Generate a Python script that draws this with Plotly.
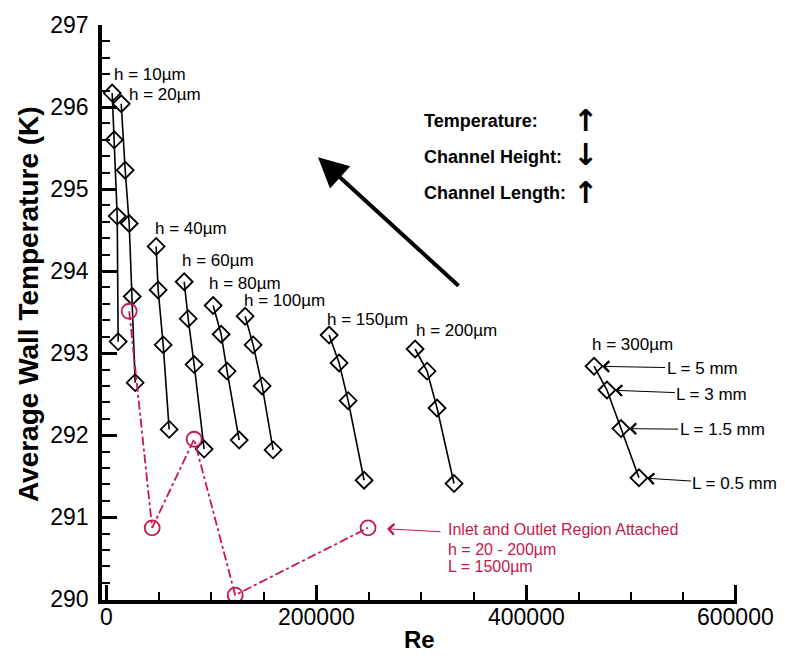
import plotly.graph_objects as go

# ---- data ----
h_labels = ["h = 10µm", "h = 20µm", "h = 40µm", "h = 60µm", "h = 80µm",
            "h = 100µm", "h = 150µm", "h = 200µm", "h = 300µm"]
re_h10 = [5700, 7600, 10500, 11400]
t_h10 = [296.17, 295.60, 294.67, 293.14]
re_h20 = [14300, 18100, 21900, 24800, 27600]
t_h20 = [296.04, 295.23, 294.58, 293.69, 292.64]
re_h40 = [47600, 49500, 54300, 60000]
t_h40 = [294.30, 293.77, 293.10, 292.07]
re_h60 = [74300, 78100, 83800, 93300]
t_h60 = [293.87, 293.42, 292.86, 291.83]
re_h80 = [101900, 109500, 115200, 126700]
t_h80 = [293.58, 293.23, 292.78, 291.94]
re_h100 = [132400, 140000, 148600, 159000]
t_h100 = [293.45, 293.10, 292.60, 291.82]
re_h150 = [212400, 221900, 230500, 245700]
t_h150 = [293.22, 292.88, 292.42, 291.45]
re_h200 = [294300, 305700, 315200, 331400]
t_h200 = [293.05, 292.78, 292.33, 291.41]
re_h300 = [464800, 477100, 490500, 507600]
t_h300 = [292.84, 292.55, 292.08, 291.48]
L_labels = ["L = 5 mm", "L = 3 mm", "L = 1.5 mm", "L = 0.5 mm"]

re_attached = [21900, 43800, 83800, 122900, 249500]
t_attached = [293.51, 290.87, 291.95, 290.05, 290.87]
attached_text = ["Inlet and Outlet Region Attached", "h = 20 - 200µm", "L = 1500µm"]

x_ticks = [0, 200000, 400000, 600000]
y_ticks = [290, 291, 292, 293, 294, 295, 296, 297]

series_re = [re_h10, re_h20, re_h40, re_h60, re_h80, re_h100, re_h150, re_h200, re_h300]
series_t = [t_h10, t_h20, t_h40, t_h60, t_h80, t_h100, t_h150, t_h200, t_h300]

FONT = "Liberation Sans, Arial, Helvetica, sans-serif"
RED = "#c8174a"
PH = 583  # plot height in px (for paper-referenced decorations)

fig = go.Figure()
for xs, ys, name in zip(series_re, series_t, h_labels):
    fig.add_trace(go.Scatter(
        x=xs, y=ys, mode="lines+markers", name=name, showlegend=False,
        line=dict(color="black", width=1.6),
        marker=dict(symbol="diamond-open", size=13, color="black",
                    line=dict(width=1.8, color="black"))))

fig.add_trace(go.Scatter(
    x=re_attached, y=t_attached, mode="lines+markers", showlegend=False,
    line=dict(color=RED, width=1.8, dash="dashdot"),
    marker=dict(symbol="circle-open", size=15, color=RED,
                line=dict(width=1.8, color=RED))))

ann = []
# h labels anchored at first point of each series
h_shift = [(0, 19), (6, 9), (-3, 18), (-4, 21), (-6, 22), (-3, 16), (-4, 16), (-1, 19), (-4, 22)]
for xs, ys, name, (dx, dy) in zip(series_re, series_t, h_labels, h_shift):
    ann.append(dict(x=xs[0], y=ys[0], text=name, showarrow=False,
                    xanchor="left", yanchor="middle", xshift=dx, yshift=dy,
                    font=dict(family=FONT, size=17, color="black")))

# L labels with arrows to the h = 300 µm points
L_off = [(108, 2), (105, 4), (101, 1), (96, 6)]
for xv, yv, txt, (ax, ay) in zip(re_h300, t_h300, L_labels, L_off):
    ann.append(dict(x=xv, y=yv, text=txt, showarrow=True, ax=ax, ay=ay,
                    arrowhead=4, arrowsize=2.1, arrowwidth=1.0, arrowcolor="black",
                    standoff=8, font=dict(family=FONT, size=17, color="black")))

# red annotation
ann.append(dict(x=re_attached[-1], y=t_attached[-1], text="", showarrow=True,
                ax=74, ay=4, arrowhead=4, arrowsize=2.1, arrowwidth=1.0,
                arrowcolor=RED, standoff=19))
for txt, ys in zip(attached_text, [-2, -22, -39]):
    ann.append(dict(x=re_attached[-1], y=t_attached[-1], text=txt, showarrow=False,
                    xanchor="left", yanchor="middle", xshift=78, yshift=ys,
                    font=dict(family=FONT, size=16, color=RED)))

# trend block
for txt, py in zip(["Temperature:", "Channel Height:", "Channel Length:"], [114, 151, 187]):
    ann.append(dict(xref="paper", yref="paper", x=(422 - 102) / 635, y=(600 - py) / PH,
                    text="<b>" + txt + "</b>", showarrow=False, xanchor="left", yanchor="middle",
                    font=dict(family=FONT, size=18, color="black")))
for sym, py in zip(["↑", "↓", "↑"], [114, 148, 187]):
    ann.append(dict(xref="paper", yref="paper", x=(585 - 102) / 635, y=(600 - py) / PH,
                    text="<b>" + sym + "</b>", showarrow=False, xanchor="center", yanchor="middle",
                    font=dict(family="DejaVu Sans", size=30, color="black")))

# big trend arrow
ann.append(dict(xref="paper", yref="paper", x=(318 - 102) / 635, y=(600 - 151) / PH,
                text="", showarrow=True, axref="pixel", ayref="pixel", ax=142, ay=130,
                arrowhead=2, arrowsize=1.5, arrowwidth=4, arrowcolor="black"))

# x tick labels (placed close to the axis as in the reference)
for v in x_ticks:
    ann.append(dict(x=v, xref="x", yref="paper", y=0, text=str(v), showarrow=False,
                    xanchor="center", yanchor="middle", yshift=-17,
                    font=dict(family=FONT, size=23, color="black")))

# axis titles
ann.append(dict(xref="paper", yref="paper", x=(28 - 102) / 635, y=(600 - 300) / PH,
                text="<b>Average Wall Temperature (K)</b>", textangle=-90, showarrow=False,
                xanchor="center", yanchor="middle",
                font=dict(family=FONT, size=28, color="black")))
ann.append(dict(xref="paper", yref="paper", x=0.5, y=(600 - 640) / PH,
                text="<b>Re</b>", showarrow=False, xanchor="center", yanchor="middle",
                font=dict(family=FONT, size=24, color="black")))

fig.update_layout(
    width=785, height=662,
    margin=dict(l=102, r=48, t=17, b=62),
    paper_bgcolor="white", plot_bgcolor="white",
    annotations=ann,
    xaxis=dict(range=[-4000, 601000], tickvals=x_ticks, showticklabels=False,
               ticks="inside", ticklen=15, tickwidth=3, tickcolor="black",
               minor=dict(dtick=50000, ticks="inside", ticklen=8, tickwidth=2, tickcolor="black"),
               showline=True, linewidth=3.5, linecolor="black", showgrid=False, zeroline=False),
    yaxis=dict(range=[289.99, 297.0], tickvals=y_ticks, ticktext=[str(v) for v in y_ticks],
               ticks="inside", ticklen=15, tickwidth=3, tickcolor="black",
               minor=dict(dtick=0.2, tick0=290, ticks="inside", ticklen=8, tickwidth=2, tickcolor="black"),
               showline=True, linewidth=3.5, linecolor="black", showgrid=False, zeroline=False,
               tickfont=dict(family=FONT, size=23, color="black"), ticklabelstandoff=5),
)

fig.write_html("out.html")
